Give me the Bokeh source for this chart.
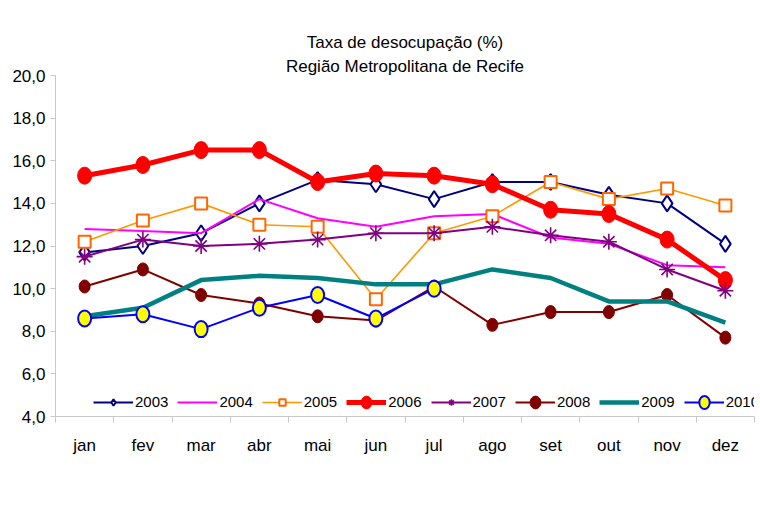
from bokeh.plotting import figure
from bokeh.models import FixedTicker, Legend, LegendItem, Title
from bokeh.embed import file_html
from bokeh.resources import INLINE

months = ["jan", "fev", "mar", "abr", "mai", "jun", "jul", "ago", "set", "out", "nov", "dez"]
y_ticks = [4, 6, 8, 10, 12, 14, 16, 18, 20]

y2003 = [11.7, 12.0, 12.6, 14.0, 15.1, 14.9, 14.2, 15.0, 15.0, 14.4, 14.0, 12.1]
y2004 = [12.8, 12.7, 12.6, 14.2, 13.3, 12.9, 13.4, 13.5, 12.4, 12.1, 11.1, 11.0]
y2005 = [12.2, 13.2, 14.0, 13.0, 12.9, 9.5, 12.6, 13.4, 15.0, 14.2, 14.7, 13.9]
y2006 = [15.3, 15.8, 16.5, 16.5, 15.0, 15.4, 15.3, 14.9, 13.7, 13.5, 12.3, 10.4]
y2007 = [11.5, 12.3, 12.0, 12.1, 12.3, 12.6, 12.6, 12.9, 12.5, 12.2, 10.9, 9.9]
y2008 = [10.1, 10.9, 9.7, 9.3, 8.7, 8.5, 10.1, 8.3, 8.9, 8.9, 9.7, 7.7]
y2009 = [8.7, 9.1, 10.4, 10.6, 10.5, 10.2, 10.2, 10.9, 10.5, 9.4, 9.4, 8.4]
y2010 = [8.6, 8.8, 8.1, 9.1, 9.7, 8.6, 10.0]

FONT = "Liberation Sans"
xs = list(range(1, len(months) + 1))

p = figure(width=758, height=495, output_backend="svg", toolbar_location=None,
           x_range=(0.5, 12.5), y_range=(4, 20), title=None)
p.min_border_left = 55
p.min_border_right = 4
p.min_border_top = 75
p.min_border_bottom = 79
p.outline_line_color = None
p.xgrid.visible = False
p.ygrid.visible = False
p.background_fill_color = "white"
p.border_fill_color = "white"

# titles
t2 = Title(text="Região Metropolitana de Recife", align="center", text_font=FONT,
           text_font_size="17px", text_font_style="normal", text_color="black", standoff=0)
t1 = Title(text="Taxa de desocupação (%)", align="center", text_font=FONT,
           text_font_size="17px", text_font_style="normal", text_color="black", standoff=6)
p.add_layout(t2, "above")
p.add_layout(t1, "above")

# axes
xa = p.xaxis[0]
xa.ticker = FixedTicker(ticks=xs, minor_ticks=[x - 0.5 for x in xs] + [12.5])
xa.major_label_overrides = {x: m for x, m in zip(xs, months)}
xa.major_tick_line_color = None
xa.major_tick_out = 0
xa.minor_tick_out = 6
xa.minor_tick_in = 0
xa.minor_tick_line_color = "#c8c8c8"
xa.axis_line_color = "#c8c8c8"
xa.major_label_text_font = FONT
xa.major_label_text_font_size = "17px"
xa.major_label_text_color = "black"
xa.major_label_standoff = 13

ya = p.yaxis[0]
ya.ticker = FixedTicker(ticks=y_ticks, minor_ticks=[])
ya.major_label_overrides = {t: f"{t:.1f}".replace(".", ",") for t in y_ticks}
ya.major_tick_out = 5
ya.major_tick_in = 0
ya.major_tick_line_color = "#c8c8c8"
ya.axis_line_color = "#c8c8c8"
ya.major_label_text_font = FONT
ya.major_label_text_font_size = "17px"
ya.major_label_text_color = "black"
ya.major_label_standoff = 5

items = []

# 2003
l = p.line(xs, y2003, line_color="#000080", line_width=2)
s = p.scatter(xs, y2003, marker="diamond", size=16, fill_color="white",
              line_color="#000080", line_width=2)
items.append(LegendItem(label="2003", renderers=[l, s]))

# 2004
l = p.line(xs, y2004, line_color="#FF00FF", line_width=2)
items.append(LegendItem(label="2004", renderers=[l]))

# 2005
l = p.line(xs, y2005, line_color="#FF9900", line_width=1.6)
s = p.scatter(xs, y2005, marker="square", size=12, fill_color="white",
              line_color="#FF6600", line_width=2)
items.append(LegendItem(label="2005", renderers=[l, s]))

# 2006
l = p.line(xs, y2006, line_color="#FF0000", line_width=5)
s = p.ellipse(xs, y2006, width=14, height=17, width_units="screen", height_units="screen",
              fill_color="#FF0000", line_color="#FF0000")
items.append(LegendItem(label="2006", renderers=[l, s]))

# 2007
l = p.line(xs, y2007, line_color="#800080", line_width=2)
s = p.scatter(xs, y2007, marker="asterisk", size=16, line_color="#800080", line_width=1.6)
items.append(LegendItem(label="2007", renderers=[l, s]))

# 2008
l = p.line(xs, y2008, line_color="#800000", line_width=2)
s = p.ellipse(xs, y2008, width=11, height=13, width_units="screen", height_units="screen",
              fill_color="#800000", line_color="#800000")
items.append(LegendItem(label="2008", renderers=[l, s]))

# 2009
l = p.line(xs, y2009, line_color="#008080", line_width=4.5)
items.append(LegendItem(label="2009", renderers=[l]))

# 2010
x10 = xs[:len(y2010)]
l = p.line(x10, y2010, line_color="#0000FF", line_width=2)
s = p.ellipse(x10, y2010, width=13, height=16, width_units="screen", height_units="screen",
              fill_color="#FFFF00", line_color="#0000FF", line_width=2)
items.append(LegendItem(label="2010", renderers=[l, s]))

legend = Legend(items=items, orientation="horizontal", location=(38, 6),
                glyph_width=40, glyph_height=16, label_standoff=2, spacing=9,
                padding=0, margin=0, border_line_color=None, background_fill_alpha=0,
                label_text_font=FONT, label_text_font_size="15px",
                label_text_color="black")
p.add_layout(legend, "center")

open("out.html", "w").write(file_html(p, INLINE))
